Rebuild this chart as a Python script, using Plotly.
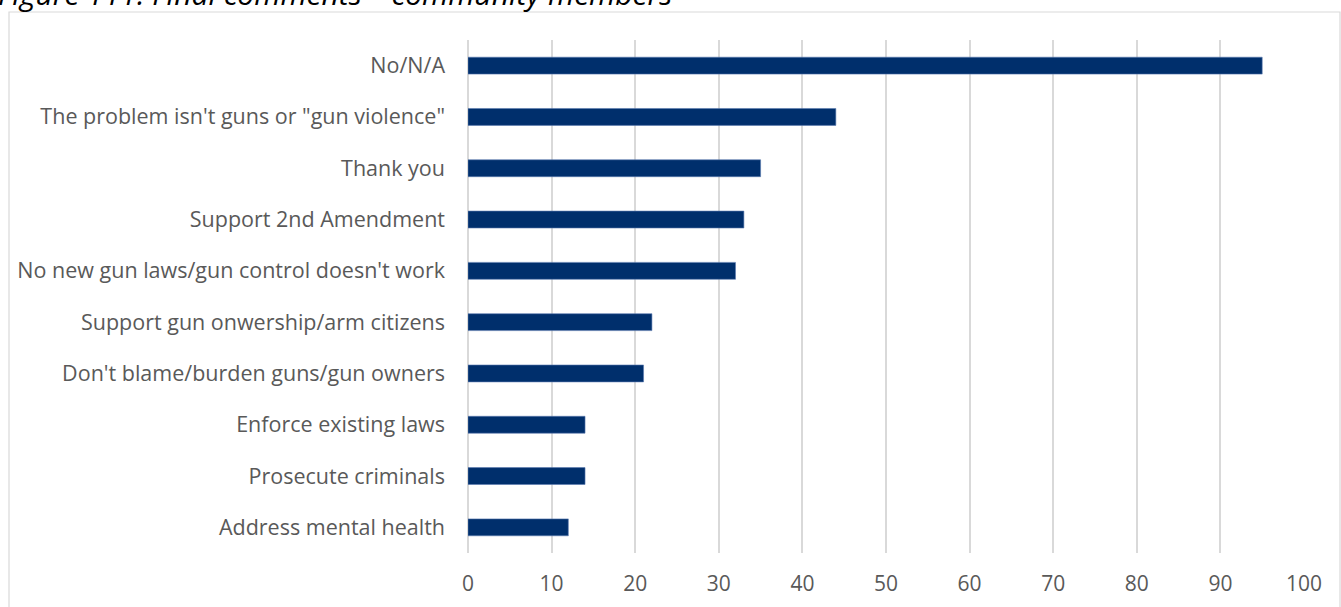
import plotly.graph_objects as go

categories = [
    "No/N/A",
    "The problem isn't guns or \"gun violence\"",
    "Thank you",
    "Support 2nd Amendment",
    "No new gun laws/gun control doesn't work",
    "Support gun onwership/arm citizens",
    "Don't blame/burden guns/gun owners",
    "Enforce existing laws",
    "Prosecute criminals",
    "Address mental health",
]
values = [95, 44, 35, 33, 32, 22, 21, 14, 14, 12]
x_ticks = [0, 10, 20, 30, 40, 50, 60, 70, 80, 90, 100]
title_text = "Figure 111: Final comments \u2013 community members"

W, H = 1341, 607
# page-pixel layout of the plot area
PL, PR, PT, PB = 468, 1304, 40, 553
L, T = PL, PT
R, B = W - PR, H - PB
pw, ph = W - L - R, H - T - B

def px(x):
    return (x - L) / pw

def py(y):
    return (H - B - y) / ph

fig = go.Figure(go.Bar(
    x=values, y=categories, orientation="h",
    marker=dict(color="#002F6C", line=dict(color="#5a7bb0", width=0.6)),
    width=0.33,
))

font_family = "'Open Sans', sans-serif"

fig.update_layout(
    width=W, height=H,
    margin=dict(l=L, r=R, t=T, b=B, autoexpand=False),
    paper_bgcolor="white", plot_bgcolor="white",
    showlegend=False,
    font=dict(family=font_family, size=21, color="#595959"),
    xaxis=dict(
        range=[0, 100], tickvals=x_ticks, showgrid=True,
        gridcolor="#d9d9d9", gridwidth=1.5, zeroline=True,
        zerolinecolor="#d9d9d9", zerolinewidth=1.5, showline=False,
        ticks="", ticklabelstandoff=16,
        tickfont=dict(size=21, color="#595959"),
    ),
    yaxis=dict(
        categoryorder="array", categoryarray=categories[::-1],
        range=[-0.5, len(categories) - 0.5],
        showgrid=False, zeroline=False, showline=False, ticks="",
        ticklabelstandoff=22,
        tickfont=dict(size=21.5, color="#595959"),
    ),
    shapes=[dict(
        type="rect", xref="paper", yref="paper",
        x0=px(9), x1=px(1340), y0=py(640), y1=py(12),
        line=dict(color="#d9d9d9", width=1.2), fillcolor="rgba(0,0,0,0)",
        layer="below",
    )],
    annotations=[dict(
        text="<i>" + title_text + "</i>", xref="paper", yref="paper",
        x=px(-4), y=py(-7), xanchor="left", yanchor="middle",
        showarrow=False, font=dict(size=30, color="black", family=font_family),
    )],
)

fig.write_html(
    "out.html",
    config={"displayModeBar": False},
    post_script="document.body.style.margin='0';",
)
